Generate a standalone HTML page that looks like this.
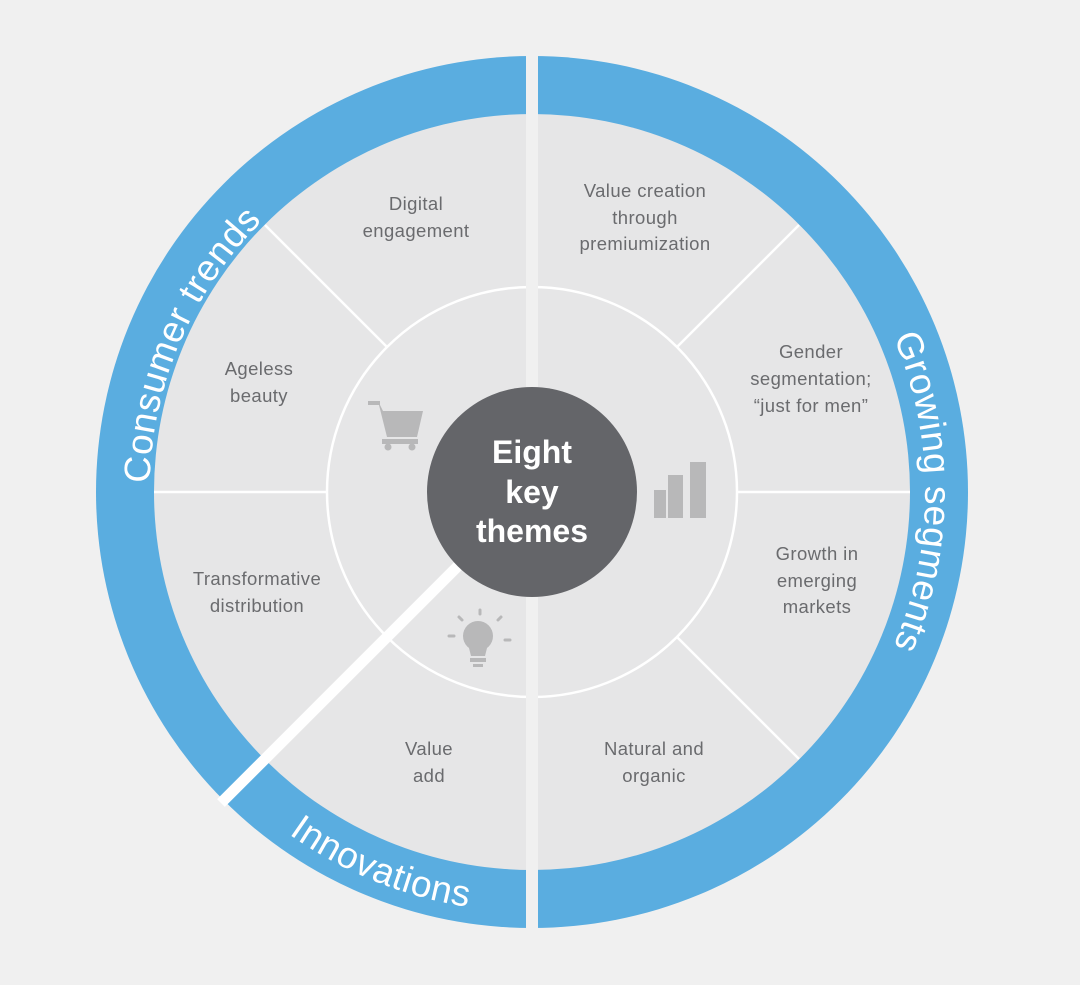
<!DOCTYPE html>
<html><head><meta charset="utf-8"><style>
html,body{margin:0;padding:0;background:#f0f0f0;}
svg{display:block;}
.seg{font-family:"Liberation Sans",sans-serif;font-size:18.5px;fill:#6a6b6e;text-anchor:middle;letter-spacing:0.4px;}
.ring{font-family:"Liberation Sans",sans-serif;font-size:37px;fill:#ffffff;letter-spacing:0.6px;}
</style></head><body>
<svg width="1080" height="985" viewBox="0 0 1080 985" xmlns="http://www.w3.org/2000/svg">
<defs>
<path id="pC" d="M 532 492 m -307.9 226.9 A 382.4 382.4 0 0 1 484.7 112.6" fill="none"/>
<path id="pG" d="M 532 492 m 208 -333 A 392 392 0 0 1 740 825" fill="none"/>
<path id="pI" d="M 116.2 549.2 A 420 420 0 0 0 790.6 823" fill="none"/>
</defs>
<rect width="1080" height="985" fill="#f0f0f0"/>
<circle cx="532" cy="492" r="436" fill="#5aade0"/>
<circle cx="532" cy="492" r="378" fill="#e6e6e7"/>
<circle cx="532" cy="492" r="205" fill="none" stroke="#ffffff" stroke-width="2.5"/>
<g stroke="#ffffff" stroke-width="2.5">
<line x1="737" y1="492" x2="910" y2="492"/>
<line x1="327" y1="492" x2="154" y2="492"/>
<line x1="677" y1="347" x2="799" y2="225"/>
<line x1="387" y1="347" x2="265" y2="225"/>
<line x1="677" y1="637" x2="799" y2="759"/>
</g>
<rect x="526" y="50" width="12" height="890" fill="#f0f0f0"/>
<line x1="532" y1="492" x2="221" y2="803" stroke="#ffffff" stroke-width="11"/>
<circle cx="532" cy="492" r="105" fill="#646569"/>
<text font-family="Liberation Sans,sans-serif" font-weight="bold" font-size="32" fill="#fff" text-anchor="middle">
<tspan x="532" y="463">Eight</tspan><tspan x="532" y="503">key</tspan><tspan x="532" y="542">themes</tspan></text>
<text class="ring"><textPath href="#pC" startOffset="50%" text-anchor="middle">Consumer trends</textPath></text>
<text class="ring"><textPath href="#pG" startOffset="50%" text-anchor="middle">Growing segments</textPath></text>
<text class="ring"><textPath href="#pI" startOffset="50%" text-anchor="middle">Innovations</textPath></text>
<text class="seg"><tspan x="416" y="210">Digital</tspan><tspan x="416" y="237">engagement</tspan></text>
<text class="seg"><tspan x="645" y="197">Value creation</tspan><tspan x="645" y="224">through</tspan><tspan x="645" y="250">premiumization</tspan></text>
<text class="seg"><tspan x="811" y="358">Gender</tspan><tspan x="811" y="385">segmentation;</tspan><tspan x="811" y="412">“just for men”</tspan></text>
<text class="seg"><tspan x="259" y="375">Ageless</tspan><tspan x="259" y="402">beauty</tspan></text>
<text class="seg"><tspan x="257" y="585">Transformative</tspan><tspan x="257" y="612">distribution</tspan></text>
<text class="seg"><tspan x="817" y="560">Growth in</tspan><tspan x="817" y="587">emerging</tspan><tspan x="817" y="613">markets</tspan></text>
<text class="seg"><tspan x="429" y="755">Value</tspan><tspan x="429" y="782">add</tspan></text>
<text class="seg"><tspan x="654" y="755">Natural and</tspan><tspan x="654" y="782">organic</tspan></text>
<g fill="#b8b8b9">
<rect x="368" y="401" width="12" height="4"/>
<path d="M378 401 l5 10 h40 l-6 26 h-30 z"/>
<rect x="382" y="439" width="36" height="5"/>
<circle cx="388" cy="447" r="3.5"/><circle cx="412" cy="447" r="3.5"/>
<rect x="654" y="490" width="12" height="28"/>
<rect x="668" y="475" width="15" height="43"/>
<rect x="690" y="462" width="16" height="56"/>
<circle cx="478" cy="636" r="15"/>
<path d="M468 644 h20 l-3 12 h-14 z"/>
<rect x="470" y="658" width="16" height="4"/>
<rect x="473" y="664" width="10" height="3"/>
</g>
<g stroke="#b8b8b9" stroke-width="3" stroke-linecap="round">
<line x1="480" y1="610" x2="480" y2="614"/>
<line x1="459" y1="617" x2="462" y2="620"/>
<line x1="501" y1="617" x2="498" y2="620"/>
<line x1="449" y1="636" x2="454" y2="636"/>
<line x1="505" y1="640" x2="510" y2="640"/>
</g>
</svg>
</body></html>
